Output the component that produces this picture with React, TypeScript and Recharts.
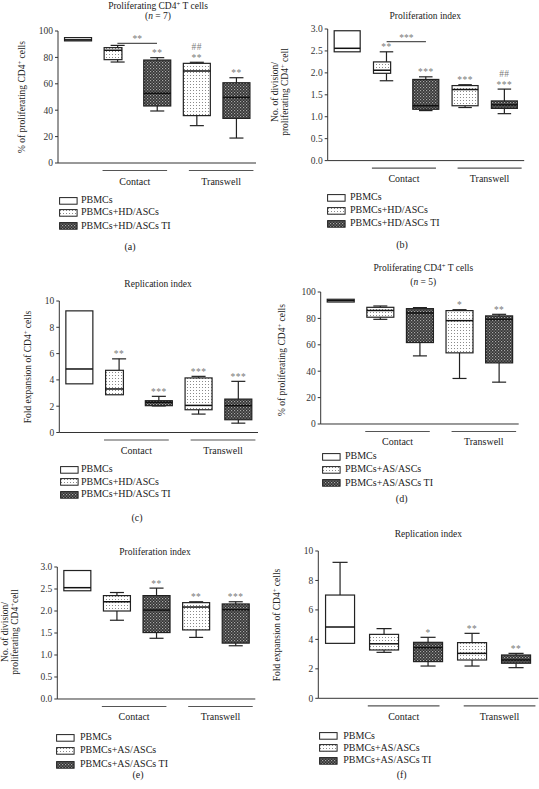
import React from "react";
import { ComposedChart, Bar, XAxis, YAxis, ReferenceLine } from "recharts";

const SERIF = '"Liberation Serif", "DejaVu Serif", "Times New Roman", serif';

const categories = ["PBMCs", "Contact", "Contact TI", "Transwell", "Transwell TI"];
const groupLabels = ["Contact", "Transwell"];
const hdLegend = ["PBMCs", "PBMCs+HD/ASCs", "PBMCs+HD/ASCs TI"];
const asLegend = ["PBMCs", "PBMCs+AS/ASCs", "PBMCs+AS/ASCs TI"];

const pctTicks = [0, 20, 40, 60, 80, 100];
const divTicks = [0, 0.5, 1, 1.5, 2, 2.5, 3];
const foldTicks = [0, 2, 4, 6, 8, 10];

// each box: [min, q1, median, q3, max]
const statsA = [
  [92.5, 92.5, 93.3, 95, 95],
  [76.5, 78.3, 85.4, 87.4, 89.1],
  [39.4, 43.2, 52.8, 78, 79.8],
  [28.3, 35.9, 69.7, 75.5, 76.3],
  [18.9, 33.8, 49.7, 60.8, 64.6],
];
const sigA = [[], [], ["**"], ["**", "##"], ["**"]];

const statsB = [
  [2.48, 2.48, 2.56, 2.96, 2.96],
  [1.82, 1.99, 2.06, 2.25, 2.48],
  [1.14, 1.17, 1.25, 1.85, 1.91],
  [1.21, 1.25, 1.62, 1.71, 1.73],
  [1.07, 1.19, 1.27, 1.36, 1.63],
];
const sigB = [[], ["**"], ["***"], ["***"], ["***", "##"]];

const statsC = [
  [3.7, 3.7, 4.83, 9.25, 9.25],
  [2.87, 2.87, 3.31, 4.73, 5.6],
  [2.02, 2.04, 2.3, 2.42, 2.75],
  [1.4, 1.73, 2.06, 4.15, 4.27],
  [0.71, 0.97, 2.04, 2.54, 3.89],
];
const sigC = [[], ["**"], ["***"], ["***"], ["***"]];

const statsD = [
  [92.4, 92.4, 93.5, 94.5, 94.5],
  [79.3, 80.9, 86, 88.4, 89.4],
  [51.6, 61.7, 84.1, 87.4, 88.2],
  [34.5, 53.9, 78.3, 85.9, 86.6],
  [31.7, 46.3, 79.3, 81.9, 83.1],
];
const sigD = [[], [], [], ["*"], ["**"]];

const statsE = [
  [2.46, 2.46, 2.53, 2.92, 2.92],
  [1.79, 2.0, 2.21, 2.35, 2.42],
  [1.38, 1.51, 2.02, 2.35, 2.52],
  [1.4, 1.57, 2.09, 2.19, 2.21],
  [1.21, 1.27, 2.03, 2.16, 2.21],
];
const sigE = [[], [], ["**"], ["**"], ["***"]];

const statsF = [
  [3.73, 3.73, 4.84, 7.01, 9.23],
  [3.12, 3.28, 3.7, 4.34, 4.73],
  [2.19, 2.49, 3.44, 3.8, 4.14],
  [2.19, 2.6, 3.05, 3.78, 4.41],
  [2.08, 2.38, 2.6, 2.94, 3.05],
];
const sigF = [[], [], ["*"], ["**"], ["**"]];

const boxFills = ["#ffffff", "url(#dots)", "url(#checks)", "url(#dots)", "url(#checks)"];

const TOP = 20;
const BOTTOM = 30;

const Sup = () => <sup style={{ fontSize: "0.7em", lineHeight: 0, verticalAlign: "0.45em" }}>+</sup>;
const cd4Title = <>Proliferating CD4<Sup /> T cells</>;
const pctLabel = <>% of proliferating CD4<Sup /> cells</>;
const foldLabel = <>Fold expansion of CD4<Sup /> cells</>;

const panels = [
  {
    tag: "(a)", stats: statsA, sig: sigA, ticks: pctTicks, dec: 0, narrow: true, legend: hdLegend,
    bracket: { y: 90.7, text: "**" },
    left: 0, axisX: 58, plotTop: 30.7, plotW: 198, plotH: 132,
    titles: [{ node: cd4Title, x: 158, y: 7 }, { node: <>(<i>n</i> = 7)</>, x: 158, y: 17 }],
    yLabel: { lines: [pctLabel], x: 22, y: 97 },
    swX: 59, txX: 81, rows: [200, 212.3, 225.5], tagX: 130, tagY: 247,
  },
  {
    tag: "(b)", stats: statsB, sig: sigB, ticks: divTicks, dec: 1, narrow: true, legend: hdLegend,
    bracket: { y: 2.71, text: "***" },
    left: 270, axisX: 327.7, plotTop: 28.7, plotW: 196.5, plotH: 131.6,
    titles: [{ node: <>Proliferation index</>, x: 425.3, y: 17.3 }],
    yLabel: { lines: [<>No. of division/</>, <>proliferating CD4<Sup /> cell</>], x: 280.3, y: 92 },
    swX: 327, txX: 350, rows: [197, 210, 223], tagX: 402, tagY: 245,
  },
  {
    tag: "(c)", stats: statsC, sig: sigC, ticks: foldTicks, dec: 0, narrow: true, legend: hdLegend,
    bracket: null,
    left: 0, axisX: 59.3, plotTop: 301.2, plotW: 198.7, plotH: 131.5,
    titles: [{ node: <>Replication index</>, x: 158, y: 285 }],
    yLabel: { lines: [foldLabel], x: 28, y: 367 },
    swX: 60, txX: 81, rows: [469, 481.7, 494.3], tagX: 137, tagY: 518,
  },
  {
    tag: "(d)", stats: statsD, sig: sigD, ticks: pctTicks, dec: 0, narrow: false, legend: asLegend,
    bracket: null,
    left: 270, axisX: 320.7, plotTop: 292, plotW: 198, plotH: 132,
    titles: [{ node: cd4Title, x: 423.3, y: 269.3 }, { node: <>(<i>n</i> = 5)</>, x: 423.3, y: 282.7 }],
    yLabel: { lines: [pctLabel], x: 281.7, y: 360 },
    swX: 321.7, txX: 345, rows: [456, 469.3, 482.7], tagX: 401.7, tagY: 499.3,
  },
  {
    tag: "(e)", stats: statsE, sig: sigE, ticks: divTicks, dec: 1, narrow: false, legend: asLegend,
    bracket: null,
    left: 0, axisX: 57.3, plotTop: 567, plotW: 198, plotH: 132,
    titles: [{ node: <>Proliferation index</>, x: 155, y: 553.3 }],
    yLabel: { lines: [<>No. of division/</>, <>proliferating CD4<Sup />cell</>], x: 10.3, y: 632 },
    swX: 56, txX: 80, rows: [737.3, 750, 764.3], tagX: 138, tagY: 775,
  },
  {
    tag: "(f)", stats: statsF, sig: sigF, ticks: foldTicks, dec: 0, narrow: false, legend: asLegend,
    bracket: null,
    left: 270, axisX: 318.3, plotTop: 551, plotW: 220, plotH: 147.3,
    titles: [{ node: <>Replication index</>, x: 428.3, y: 535 }],
    yLabel: { lines: [foldLabel], x: 276.7, y: 625 },
    swX: 319.3, txX: 343.3, rows: [735.7, 747.7, 760], tagX: 401.7, tagY: 775,
  },
];

function BoxShape(props: any) {
  const { x, y, width, height, payload, narrow } = props;
  const { min, q1, med, q3, max, sig, fill } = payload;
  const top = Math.min(y, y + height);
  const h = Math.abs(height);
  const yv = (v: number) => top + ((max - v) / (max - min)) * h;
  const cx = x + width / 2;
  const idx = categories.indexOf(payload.name);
  const bw = narrow && idx === 1 ? width * 0.66 : width;
  const cap = width * 0.26;
  const st = { stroke: "#222", strokeWidth: 1.2 };
  return (
    <g>
      {max > q3 && <line x1={cx} x2={cx} y1={yv(max)} y2={yv(q3)} {...st} />}
      {max > q3 && <line x1={cx - cap} x2={cx + cap} y1={yv(max)} y2={yv(max)} {...st} />}
      {min < q1 && <line x1={cx} x2={cx} y1={yv(q1)} y2={yv(min)} {...st} />}
      {min < q1 && <line x1={cx - cap} x2={cx + cap} y1={yv(min)} y2={yv(min)} {...st} />}
      <rect x={x} y={yv(q3)} width={bw} height={yv(q1) - yv(q3)} fill={fill} {...st} />
      <line x1={x} x2={x + bw} y1={yv(med)} y2={yv(med)} stroke="#111" strokeWidth={1.5} />
      {sig.map((s: string, i: number) => (
        <text key={i} x={cx} y={yv(max) - 1.5 - i * 11} textAnchor="middle" fontFamily={SERIF}
          fontSize={9.5} fill="#7a7a7a" letterSpacing={0.5}>{s}</text>
      ))}
    </g>
  );
}

const makeTick = (band: number, axisY: number) => (props: any) => {
  const { x, index } = props;
  const gi = index === 1 ? 0 : index === 3 ? 1 : -1;
  if (gi < 0) return <g />;
  const mid = x + band / 2 + (gi === 0 ? -0.06 : 0.12) * band;
  const half = 0.815 * band;
  return (
    <g>
      <line x1={mid - half} x2={mid + half} y1={axisY + 7.5} y2={axisY + 7.5} stroke="#555" strokeWidth={1.2} />
      <text x={mid} y={axisY + 21.5} textAnchor="middle" fontFamily={SERIF} fontSize={10} fill="#222">
        {groupLabels[gi]}
      </text>
    </g>
  );
};

function Txt({ x, y, children, size = 10, left = false }: any) {
  return (
    <div style={{
      position: "absolute", left: x, top: y, whiteSpace: "nowrap", fontSize: size, lineHeight: 1,
      transform: left ? "translate(0,-50%)" : "translate(-50%,-50%)", color: "#222",
    }}>{children}</div>
  );
}

function Panel({ p }: { p: (typeof panels)[number] }) {
  const band = p.plotW / 5;
  const yAxisW = p.axisX - p.left;
  const data = categories.map((name, i) => ({
    name,
    min: p.stats[i][0], q1: p.stats[i][1], med: p.stats[i][2], q3: p.stats[i][3], max: p.stats[i][4],
    sig: p.sig[i], fill: boxFills[i],
  }));
  const domain = [p.ticks[0], p.ticks[p.ticks.length - 1]];
  return (
    <>
      <div style={{ position: "absolute", left: p.left, top: p.plotTop - TOP }}>
        <ComposedChart width={yAxisW + p.plotW + 4} height={TOP + p.plotH + BOTTOM} data={data}
          margin={{ top: TOP, right: 4, bottom: 0, left: 0 }} barCategoryGap="16.5%">
          <XAxis dataKey="name" interval={0} tickLine={false} axisLine={{ stroke: "#333" }}
            height={BOTTOM} tick={makeTick(band, TOP + p.plotH)} />
          <YAxis width={yAxisW} domain={domain} ticks={p.ticks} tickSize={3} tickMargin={2}
            axisLine={{ stroke: "#333" }} tickLine={{ stroke: "#333" }}
            tick={{ fontSize: 9.5, fill: "#333", fontFamily: SERIF }}
            tickFormatter={(v: number) => v.toFixed(p.dec)} />
          <Bar dataKey={(d: any) => [d.min, d.max]} isAnimationActive={false}
            shape={(sp: any) => <BoxShape {...sp} narrow={p.narrow} />} />
          {p.bracket && (
            <ReferenceLine segment={[{ x: categories[1], y: p.bracket.y }, { x: categories[2], y: p.bracket.y }]}
              stroke="#555" strokeWidth={1.2}
              label={{ value: p.bracket.text, position: "top", offset: 1, fill: "#7a7a7a", fontSize: 9.5, fontFamily: SERIF }} />
          )}
        </ComposedChart>
      </div>
      {p.titles.map((t, i) => <Txt key={i} x={t.x} y={t.y} size={9.5}>{t.node}</Txt>)}
      <div style={{
        position: "absolute", left: p.yLabel.x, top: p.yLabel.y, whiteSpace: "nowrap", fontSize: 9.5,
        lineHeight: "10px", textAlign: "center", color: "#222",
        transform: "translate(-50%,-50%) rotate(-90deg)",
      }}>
        {p.yLabel.lines.map((l, i) => <div key={i}>{l}</div>)}
      </div>
      {p.legend.map((name, i) => (
        <React.Fragment key={name}>
          <svg style={{ position: "absolute", left: p.swX, top: p.rows[i] - 3.5 }} width={19} height={8}>
            <rect x={0.6} y={0.6} width={17.5} height={6.6} fill={boxFills[i]} stroke="#222" strokeWidth={1} />
          </svg>
          <Txt x={p.txX} y={p.rows[i]} size={10} left>{name}</Txt>
        </React.Fragment>
      ))}
      <Txt x={p.tagX} y={p.tagY} size={10}>{p.tag}</Txt>
    </>
  );
}

export default function App() {
  return (
    <div style={{ position: "relative", width: 539, height: 789, background: "#fff", overflow: "hidden", fontFamily: SERIF }}>
      <style>{"body{margin:0}"}</style>
      <svg width={0} height={0} style={{ position: "absolute" }}>
        <defs>
          <pattern id="dots" width={3} height={3} patternUnits="userSpaceOnUse">
            <rect width={3} height={3} fill="#ffffff" />
            <rect x={1} y={1} width={1} height={1} fill="#8a8a8a" />
          </pattern>
          <pattern id="checks" width={3} height={3} patternUnits="userSpaceOnUse">
            <rect width={3} height={3} fill="#333333" />
            <rect x={0} y={0} width={1.2} height={1.2} fill="#a8a8a8" />
            <rect x={1.5} y={1.5} width={1.2} height={1.2} fill="#8f8f8f" />
          </pattern>
        </defs>
      </svg>
      {panels.map((p) => <Panel key={p.tag} p={p} />)}
    </div>
  );
}
